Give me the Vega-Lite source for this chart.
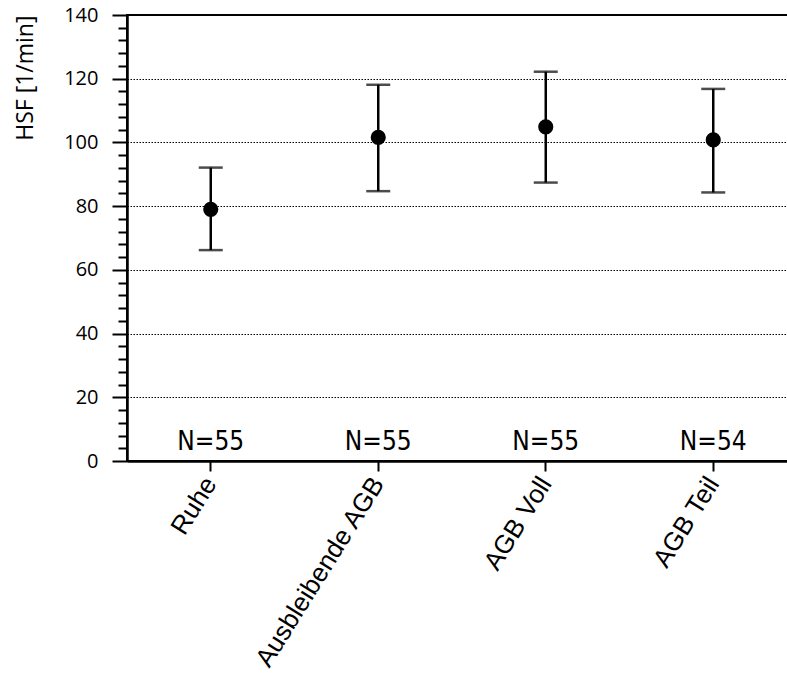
{
  "$schema": "https://vega.github.io/schema/vega-lite/v6.json",
  "autosize": {"type": "none"},
  "padding": {"left": 127, "top": 15, "right": 0, "bottom": 223},
  "width": 661,
  "height": 446,
  "background": "white",
  "config": {
    "view": {"stroke": "black", "strokeWidth": 2},
    "axis": {"domainColor": "black", "tickColor": "black", "labelColor": "black", "titleColor": "black"}
  },
  "data": {
    "values": [
      {"group": "Ruhe", "mean": 79.0, "lo": 66.2, "hi": 92.1, "n": "N=55"},
      {"group": "Ausbleibende AGB", "mean": 101.6, "lo": 84.7, "hi": 118.1, "n": "N=55"},
      {"group": "AGB Voll", "mean": 104.9, "lo": 87.4, "hi": 122.2, "n": "N=55"},
      {"group": "AGB Teil", "mean": 100.8, "lo": 84.3, "hi": 116.8, "n": "N=54"}
    ]
  },
  "encoding": {
    "x": {
      "field": "group", "type": "nominal", "sort": null,
      "scale": {"paddingInner": 0, "paddingOuter": 0, "range": [0, 670]},
      "axis": {
        "title": null, "labelAngle": -58, "labelAlign": "right", "labelBaseline": "middle",
        "labelFont": "Liberation Sans", "labelFontSize": 26, "labelPadding": 8, "labelLimit": 400,
        "tickSize": 10, "tickWidth": 2, "domainWidth": 2.5, "grid": false
      }
    }
  },
  "layer": [
    {
      "mark": {"type": "rule", "strokeWidth": 0},
      "encoding": {
        "y": {
          "datum": 0, "type": "quantitative",
          "scale": {"domain": [0, 140], "nice": false},
          "axis": {
            "orient": "left", "title": null, "values": [4,8,12,16,24,28,32,36,44,48,52,56,64,68,72,76,84,88,92,96,104,108,112,116,124,128,132,136],
            "labels": false, "tickSize": 9, "tickWidth": 2, "domain": false, "grid": false
          }
        }
      }
    },
    {
      "mark": {"type": "rule", "strokeWidth": 0},
      "encoding": {
        "y": {
          "datum": 0, "type": "quantitative",
          "axis": {
            "orient": "left", "title": null, "values": [20,40,60,80,100,120],
            "labels": false, "ticks": false, "domain": false,
            "grid": true, "gridColor": "black", "gridDash": [1.5, 1.5], "gridWidth": 1
          }
        }
      }
    },
    {
      "mark": {"type": "rule", "strokeWidth": 2.5, "color": "black"},
      "encoding": {
        "y": {
          "field": "lo", "type": "quantitative",
          "axis": {
            "orient": "left", "title": "HSF [1/min]", "values": [0,20,40,60,80,100,120,140],
            "titleAnchor": "end", "titleFont": "Open Sans", "titleFontSize": 23, "titleFontWeight": "normal",
            "titlePadding": 26,
            "labelFont": "Open Sans", "labelFontSize": 20, "labelPadding": 14,
            "tickSize": 15, "tickWidth": 2, "domainWidth": 2.5, "grid": false
          }
        },
        "y2": {"field": "hi"}
      }
    },
    {
      "mark": {"type": "tick", "size": 24, "thickness": 2.5, "color": "black", "orient": "horizontal"},
      "encoding": {"y": {"field": "lo", "type": "quantitative"}}
    },
    {
      "mark": {"type": "tick", "size": 24, "thickness": 2.5, "color": "black", "orient": "horizontal"},
      "encoding": {"y": {"field": "hi", "type": "quantitative"}}
    },
    {
      "mark": {"type": "circle", "size": 230, "color": "black", "opacity": 1},
      "encoding": {"y": {"field": "mean", "type": "quantitative"}}
    },
    {
      "mark": {"type": "text", "font": "DejaVu Sans Condensed", "fontSize": 26, "baseline": "alphabetic", "color": "black"},
      "encoding": {
        "y": {"datum": 3.5, "type": "quantitative"},
        "text": {"field": "n"}
      }
    }
  ],
  "resolve": {"axis": {"y": "independent"}}
}
